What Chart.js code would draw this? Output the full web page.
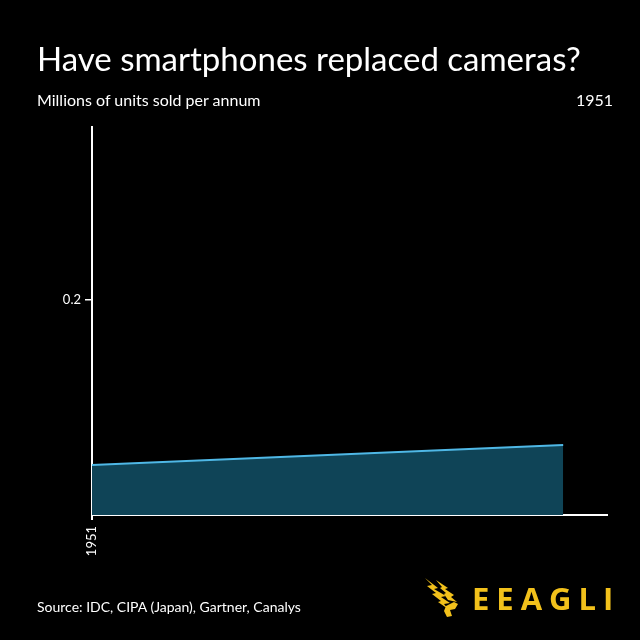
<!DOCTYPE html>
<html>
<head>
<meta charset="utf-8">
<script src="https://cdn.jsdelivr.net/npm/chart.js@4"></script>
<style>
  html, body { margin: 0; padding: 0; background: #000; }
  body { width: 640px; height: 640px; position: relative; overflow: hidden; font-family: Lato, sans-serif; color: #fff; }
  #chart { position: absolute; left: 0; top: 0; }
  .txt { position: absolute; white-space: nowrap; }
  #title { left: 37px; top: 38px; font-size: 33px; }
  #sub { left: 37px; top: 90px; font-size: 16px; }
  #year { right: 27px; top: 90px; font-size: 16px; }
  #source { left: 37px; top: 598px; font-size: 14px; }
  #logo { position: absolute; left: 424px; top: 576px; width: 195px; height: 44px; }
  #brand { position: absolute; left: 472px; top: 577px; font-size: 31px; font-weight: 700; color: #f2c11b; letter-spacing: 7px; font-family: "Open Sans", sans-serif; }
</style>
</head>
<body>
<canvas id="chart" width="640" height="640"></canvas>
<div class="txt" id="title">Have smartphones replaced cameras?</div>
<div class="txt" id="sub">Millions of units sold per annum</div>
<div class="txt" id="year">1951</div>
<div class="txt" id="source">Source: IDC, CIPA (Japan), Gartner, Canalys</div>
<svg id="logo" viewBox="0 0 195 44">
  <g fill="#f2c11b">
    <polygon points="1,2 14,12 10,13 22,20 17,21 26,27 20,28 24,33 14,26 17,25 8,18 12,17 3,10 8,9"/>
    <polygon points="12,4 24,12 21,13 30,19 27,21 33,26 24,24 20,18 22,17 16,12 18,11"/>
    <polygon points="22,30 30,26 34,28 31,33 26,34 28,40 23,41 20,35"/>
  </g>
</svg>
<div class="txt" id="brand">EEAGLI</div>
<script>
// Data
const years = [1951, 1952];
const unitsSold = [0.0465, 0.0651];
const yTicks = [0.2];
const xTicks = [1951];

const ctx = document.getElementById('chart').getContext('2d');

let chart = new Chart(ctx, {
    type: 'line',
    data: {
        datasets: [{
            data: years.map((y, i) => ({ x: y, y: unitsSold[i] })),
            borderColor: '#4fb8e6',
            backgroundColor: '#0f4457',
            borderWidth: 2,
            pointRadius: 0,
            tension: 0,
            fill: 'origin'
        }]
    },
    options: {
        responsive: false,
        animation: false,
        layout: { padding: { top: 127, right: 33, left: 0, bottom: 0 } },
        plugins: { legend: { display: false }, tooltip: { enabled: false } },
        scales: {
            x: {
                type: 'linear',
                min: 1951,
                max: 1952.093,
                afterBuildTicks: axis => { axis.ticks = xTicks.map(v => ({ value: v })); },
                afterFit: axis => { axis.height = 125; },
                ticks: {
                    color: '#fff',
                    font: { family: 'Lato', size: 13 },
                    minRotation: 90,
                    maxRotation: 90,
                    padding: 6,
                    callback: v => String(v)
                },
                grid: { drawOnChartArea: false, drawTicks: true, tickLength: 5, color: '#fff', lineWidth: 2 },
                border: { display: true, color: '#fff', width: 2 }
            },
            y: {
                min: 0,
                max: 0.361,
                afterBuildTicks: axis => { axis.ticks = yTicks.map(v => ({ value: v })); },
                afterFit: axis => { axis.width = 92; },
                ticks: {
                    color: '#fff',
                    font: { family: 'Lato', size: 13 },
                    padding: 4,
                    callback: v => v.toFixed(1)
                },
                grid: { drawOnChartArea: false, drawTicks: true, tickLength: 7, color: '#fff', lineWidth: 1.5 },
                border: { display: true, color: '#fff', width: 2 }
            }
        }
    }
});
</script>
</body>
</html>
